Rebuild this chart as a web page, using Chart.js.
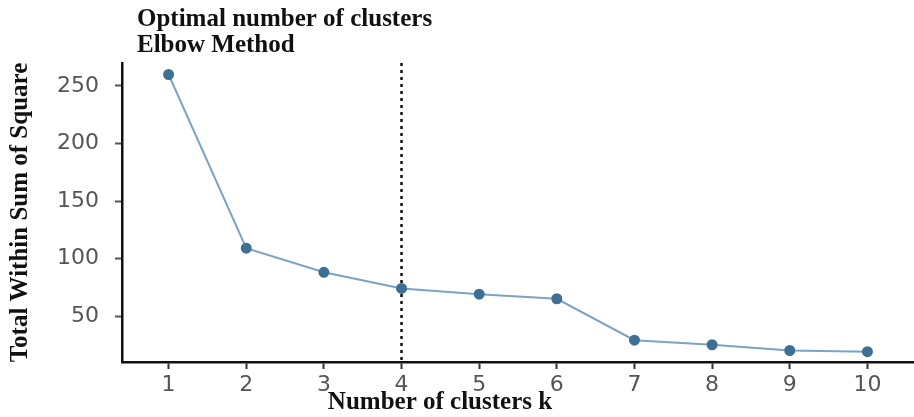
<!DOCTYPE html>
<html>
<head>
<meta charset="utf-8">
<script src="https://cdn.jsdelivr.net/npm/chart.js@4.4.1/dist/chart.umd.min.js"></script>
<style>
  body { margin: 0; background: #fff; }
  #wrap { width: 914px; height: 417px; position: relative; }
</style>
</head>
<body>
<div id="wrap"><canvas id="elbow-chart"></canvas></div>
<script>
const clusterCounts = [1, 2, 3, 4, 5, 6, 7, 8, 9, 10];
const withinSS = [260, 109, 88, 74, 69, 65, 29, 25, 20, 19];
const yTickValues = [50, 100, 150, 200, 250];
const optimalK = 4;
const titleLines = ['Optimal number of clusters', 'Elbow Method'];
const xAxisTitle = 'Number of clusters k';
const yAxisTitle = 'Total Within Sum of Square';

const serifFamily = '"Liberation Serif", "Times New Roman", serif';
const tickFont = { family: '"DejaVu Sans", sans-serif', size: 22 };

// dotted line at the chosen k, plus the title block and x axis title
const annotations = {
    id: 'annotations',
    beforeDatasetsDraw(chart) {
        const ctx = chart.ctx;
        const area = chart.chartArea;
        const x = chart.scales.x.getPixelForValue(optimalK);
        ctx.save();
        ctx.strokeStyle = '#111';
        ctx.lineWidth = 2.5;
        ctx.setLineDash([3, 4]);
        ctx.beginPath();
        ctx.moveTo(x, area.top);
        ctx.lineTo(x, area.bottom);
        ctx.stroke();
        ctx.restore();
    },
    afterDraw(chart) {
        const ctx = chart.ctx;
        ctx.save();
        ctx.fillStyle = '#111';
        ctx.font = 'bold 25px ' + serifFamily;
        ctx.textBaseline = 'alphabetic';
        ctx.textAlign = 'left';
        ctx.fillText(titleLines[0], 137, 26);
        ctx.fillText(titleLines[1], 137, 52);
        ctx.textAlign = 'center';
        ctx.fillText(xAxisTitle, 440, 409);
        ctx.restore();
    }
};

const ctx = document.getElementById('elbow-chart').getContext('2d');

new Chart(ctx, {
    type: 'line',
    data: {
        datasets: [{
            label: 'wss',
            data: clusterCounts.map((k, i) => ({ x: k, y: withinSS[i] })),
            borderColor: '#7aa3c4',
            borderWidth: 2,
            backgroundColor: '#3e6f95',
            pointBackgroundColor: '#3e6f95',
            pointBorderColor: '#3e6f95',
            pointRadius: 4.5,
            tension: 0
        }]
    },
    options: {
        responsive: true,
        maintainAspectRatio: false,
        animation: false,
        layout: { autoPadding: false, padding: { top: 63, right: 0, bottom: 0, left: 0 } },
        plugins: {
            legend: { display: false },
            tooltip: { enabled: false }
        },
        scales: {
            x: {
                type: 'linear',
                min: 0.4,
                max: 10.6,
                afterBuildTicks: s => { s.ticks = clusterCounts.map(v => ({ value: v })); },
                afterFit: s => { s.height = 55; },
                grid: { drawOnChartArea: false, drawTicks: true, tickLength: 7, tickColor: '#333', tickWidth: 2 },
                border: { display: true, color: '#111', width: 2.5 },
                ticks: { color: '#555', font: tickFont, padding: 3, maxRotation: 0, autoSkip: false }
            },
            y: {
                min: 10,
                max: 270,
                afterBuildTicks: s => { s.ticks = yTickValues.map(v => ({ value: v })); },
                afterFit: s => { s.width = 122; },
                grid: { drawOnChartArea: false, drawTicks: true, tickLength: 7, tickColor: '#555', tickWidth: 2 },
                border: { display: true, color: '#111', width: 2.5 },
                ticks: { color: '#555', font: tickFont, padding: 16 },
                title: {
                    display: true,
                    text: yAxisTitle,
                    color: '#111',
                    font: { family: serifFamily, size: 25, weight: 'bold' },
                    padding: { top: 6, bottom: 0 }
                }
            }
        }
    },
    plugins: [annotations]
});
</script>
</body>
</html>
